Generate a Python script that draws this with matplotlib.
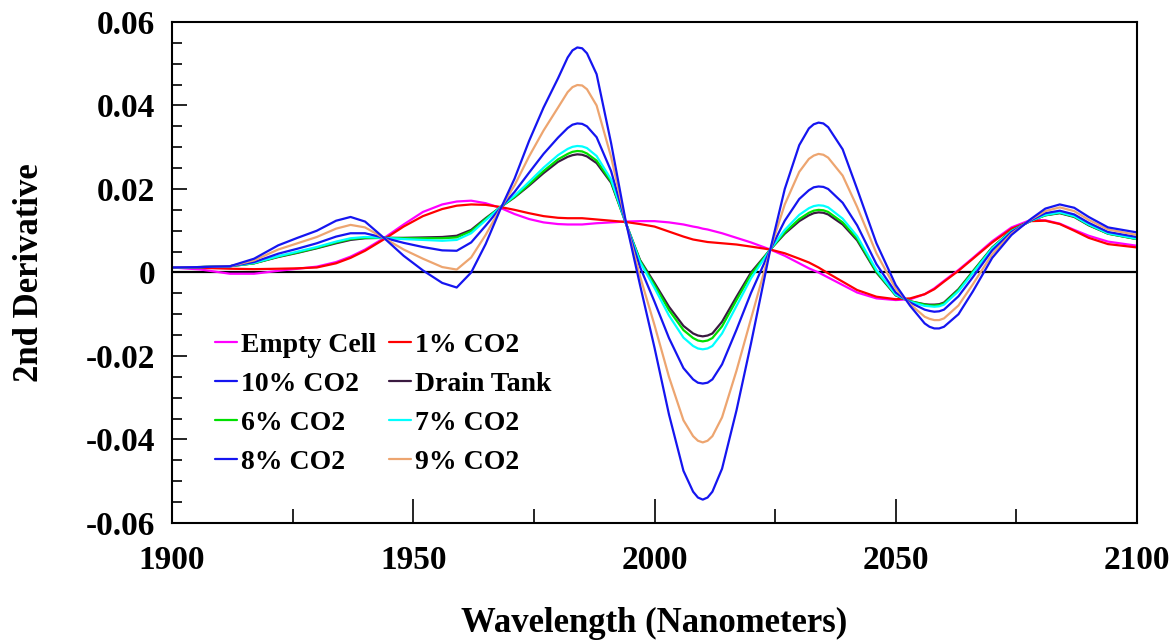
import matplotlib
matplotlib.use("Agg")
import matplotlib.pyplot as plt
from matplotlib.ticker import MultipleLocator, FixedLocator, FixedFormatter

plt.rcParams['font.family'] = ['Liberation Serif', 'DejaVu Serif']
plt.rcParams['font.weight'] = 'bold'

wavelength = [1900, 1906, 1912, 1917, 1922, 1926, 1930, 1934, 1937, 1940,
              1944, 1948, 1952, 1956, 1959, 1962, 1965, 1968, 1971, 1974,
              1977, 1980, 1982, 1983, 1984, 1985, 1986, 1988, 1991, 1994, 1997, 2000,
              2003, 2006, 2008, 2009, 2010, 2011, 2012, 2014, 2017, 2020, 2024, 2027,
              2030, 2032, 2033, 2034, 2035, 2036, 2039, 2042, 2046, 2050, 2053, 2056,
              2057, 2058, 2059, 2060, 2063, 2066, 2070, 2074, 2078, 2081, 2084, 2087,
              2090, 2094, 2100]

empty_cell = [0.0012, 0.0007, -0.0003, -0.0003, 0.0004, 0.0009, 0.0014, 0.0025, 0.0038, 0.0055,
              0.0083, 0.0115, 0.0145, 0.0163, 0.0170, 0.0172, 0.0166, 0.0155, 0.0140, 0.0128,
              0.0120, 0.0116, 0.0115, 0.0115, 0.0115, 0.0115, 0.0116, 0.0118, 0.0120, 0.0122, 0.0123, 0.0123,
              0.0120, 0.0115, 0.0110, 0.0108, 0.0105, 0.0103, 0.0100, 0.0094, 0.0083, 0.0072, 0.0055, 0.0040,
              0.0022, 0.0010, 0.0005, 0.0000, -0.0006, -0.0012, -0.0030, -0.0048, -0.0062, -0.0066, -0.0064, -0.0052,
              -0.0045, -0.0038, -0.0029, -0.0020, 0.0006, 0.0035, 0.0075, 0.0108, 0.0126, 0.0125, 0.0117, 0.0102,
              0.0088, 0.0074, 0.0064]

co2_1 = [0.0012, 0.0011, 0.0009, 0.0008, 0.0009, 0.0010, 0.0012, 0.0022, 0.0035, 0.0052,
         0.0080, 0.0110, 0.0135, 0.0152, 0.0160, 0.0163, 0.0162, 0.0157, 0.0150, 0.0142,
         0.0135, 0.0131, 0.0130, 0.0130, 0.0130, 0.0130, 0.0129, 0.0127, 0.0124, 0.0121, 0.0116, 0.0110,
         0.0098, 0.0086, 0.0079, 0.0077, 0.0075, 0.0073, 0.0072, 0.0070, 0.0067, 0.0062, 0.0055, 0.0046,
         0.0033, 0.0024, 0.0018, 0.0012, 0.0005, -0.0002, -0.0022, -0.0042, -0.0058, -0.0064, -0.0062, -0.0052,
         -0.0046, -0.0040, -0.0031, -0.0022, 0.0004, 0.0033, 0.0072, 0.0105, 0.0123, 0.0124, 0.0116, 0.0100,
         0.0083, 0.0068, 0.0060]

co2_10 = [0.0012, 0.0013, 0.0015, 0.0033, 0.0065, 0.0083, 0.0100, 0.0124, 0.0133, 0.0122,
          0.0082, 0.0040, 0.0005, -0.0025, -0.0036, 0.0000, 0.0068, 0.0150, 0.0225, 0.0315,
          0.0395, 0.0465, 0.0515, 0.0532, 0.0539, 0.0537, 0.0525, 0.0475, 0.0310, 0.0125, -0.0030, -0.0180,
          -0.0340, -0.0475, -0.0525, -0.0539, -0.0544, -0.0539, -0.0525, -0.0470, -0.0330, -0.0170, 0.0055, 0.0200,
          0.0305, 0.0345, 0.0355, 0.0359, 0.0357, 0.0348, 0.0295, 0.0200, 0.0070, -0.0030, -0.0080, -0.0122,
          -0.0130, -0.0134, -0.0134, -0.0130, -0.0100, -0.0045, 0.0035, 0.0090, 0.0128, 0.0153, 0.0163, 0.0155,
          0.0133, 0.0108, 0.0096]

drain_tank = [0.0012, 0.0013, 0.0015, 0.0022, 0.0037, 0.0047, 0.0058, 0.0070, 0.0078, 0.0082,
              0.0083, 0.0083, 0.0084, 0.0085, 0.0088, 0.0102, 0.0130, 0.0156, 0.0180, 0.0208,
              0.0238, 0.0265, 0.0277, 0.0281, 0.0283, 0.0282, 0.0278, 0.0262, 0.0215, 0.0120, 0.0030, -0.0025,
              -0.0082, -0.0128, -0.0146, -0.0151, -0.0153, -0.0151, -0.0146, -0.0118, -0.0058, 0.0000, 0.0055, 0.0093,
              0.0123, 0.0137, 0.0142, 0.0144, 0.0143, 0.0139, 0.0115, 0.0077, 0.0000, -0.0055, -0.0069, -0.0076,
              -0.0077, -0.0077, -0.0076, -0.0072, -0.0040, 0.0003, 0.0060, 0.0100, 0.0124, 0.0137, 0.0142, 0.0133,
              0.0113, 0.0093, 0.0080]

co2_6 = [0.0012, 0.0013, 0.0015, 0.0022, 0.0038, 0.0048, 0.0059, 0.0072, 0.0080, 0.0083,
         0.0083, 0.0082, 0.0082, 0.0082, 0.0084, 0.0099, 0.0128, 0.0156, 0.0181, 0.0211,
         0.0243, 0.0271, 0.0284, 0.0289, 0.0291, 0.0290, 0.0285, 0.0268, 0.0218, 0.0120, 0.0028, -0.0030,
         -0.0090, -0.0138, -0.0157, -0.0163, -0.0165, -0.0163, -0.0157, -0.0129, -0.0066, -0.0005, 0.0055, 0.0096,
         0.0128, 0.0143, 0.0148, 0.0150, 0.0149, 0.0145, 0.0120, 0.0081, 0.0002, -0.0054, -0.0069, -0.0077,
         -0.0079, -0.0079, -0.0078, -0.0074, -0.0042, 0.0002, 0.0059, 0.0100, 0.0124, 0.0137, 0.0143, 0.0134,
         0.0114, 0.0093, 0.0080]

co2_7 = [0.0012, 0.0013, 0.0015, 0.0023, 0.0039, 0.0050, 0.0061, 0.0074, 0.0082, 0.0085,
         0.0083, 0.0080, 0.0078, 0.0076, 0.0078, 0.0094, 0.0125, 0.0156, 0.0184, 0.0217,
         0.0251, 0.0281, 0.0296, 0.0301, 0.0303, 0.0302, 0.0298, 0.0279, 0.0223, 0.0120, 0.0025, -0.0037,
         -0.0103, -0.0156, -0.0176, -0.0182, -0.0184, -0.0182, -0.0176, -0.0146, -0.0080, -0.0014, 0.0055, 0.0102,
         0.0138, 0.0154, 0.0159, 0.0161, 0.0160, 0.0156, 0.0129, 0.0087, 0.0006, -0.0053, -0.0070, -0.0080,
         -0.0081, -0.0082, -0.0081, -0.0077, -0.0045, -0.0001, 0.0058, 0.0099, 0.0124, 0.0138, 0.0144, 0.0135,
         0.0115, 0.0094, 0.0081]

co2_8 = [0.0012, 0.0013, 0.0015, 0.0025, 0.0045, 0.0057, 0.0070, 0.0086, 0.0094, 0.0094,
         0.0083, 0.0071, 0.0061, 0.0053, 0.0052, 0.0072, 0.0112, 0.0154, 0.0193, 0.0239,
         0.0284, 0.0323, 0.0346, 0.0354, 0.0357, 0.0356, 0.0350, 0.0324, 0.0243, 0.0121, 0.0013, -0.0070,
         -0.0157, -0.0229, -0.0256, -0.0264, -0.0266, -0.0264, -0.0256, -0.0220, -0.0137, -0.0049, 0.0055, 0.0124,
         0.0176, 0.0197, 0.0204, 0.0206, 0.0205, 0.0200, 0.0167, 0.0113, 0.0020, -0.0048, -0.0072, -0.0089,
         -0.0092, -0.0094, -0.0093, -0.0089, -0.0057, -0.0011, 0.0053, 0.0097, 0.0125, 0.0142, 0.0148, 0.0139,
         0.0119, 0.0097, 0.0085]

co2_9 = [0.0012, 0.0013, 0.0015, 0.0029, 0.0055, 0.0070, 0.0085, 0.0105, 0.0114, 0.0108,
         0.0082, 0.0055, 0.0033, 0.0013, 0.0007, 0.0036, 0.0090, 0.0152, 0.0209, 0.0278,
         0.0340, 0.0395, 0.0432, 0.0444, 0.0449, 0.0448, 0.0439, 0.0400, 0.0277, 0.0123, -0.0009, -0.0126,
         -0.0250, -0.0354, -0.0392, -0.0403, -0.0407, -0.0403, -0.0392, -0.0347, -0.0235, -0.0111, 0.0055, 0.0163,
         0.0241, 0.0272, 0.0280, 0.0284, 0.0282, 0.0275, 0.0232, 0.0157, 0.0046, -0.0039, -0.0076, -0.0106,
         -0.0111, -0.0114, -0.0114, -0.0110, -0.0079, -0.0028, 0.0044, 0.0093, 0.0127, 0.0147, 0.0156, 0.0147,
         0.0126, 0.0103, 0.0090]

y_ticks = [-0.06, -0.04, -0.02, 0.0, 0.02, 0.04, 0.06]
y_tick_labels = ['-0.06', '-0.04', '-0.02', '0', '0.02', '0.04', '0.06']
x_ticks = [1900, 1950, 2000, 2050, 2100]

fig = plt.figure(figsize=(11.76, 6.41), dpi=100)
ax = fig.add_axes([0.1463, 0.1841, 0.8205, 0.7816])

lw = 1.6
style = dict(lw=lw, solid_joinstyle='round', solid_capstyle='round')
# legend order is column-wise: left column first, then right column
l_empty, = ax.plot(wavelength, empty_cell, color='#FF00FF', label='Empty Cell', **style)
l_1, = ax.plot(wavelength, co2_1, color='#FF0000', label='1% CO2', **style)
l_drain, = ax.plot(wavelength, drain_tank, color='#3A1A40', label='Drain Tank', **style)
l_6, = ax.plot(wavelength, co2_6, color='#00E000', label='6% CO2', **style)
l_7, = ax.plot(wavelength, co2_7, color='#00FFFF', label='7% CO2', **style)
l_8, = ax.plot(wavelength, co2_8, color='#1515F0', label='8% CO2', **style)
l_9, = ax.plot(wavelength, co2_9, color='#EDA570', label='9% CO2', **style)
l_10, = ax.plot(wavelength, co2_10, color='#1515F0', label='10% CO2', **style)

ax.axhline(0, color='black', lw=1.6, zorder=1)

ax.set_xlim(1900, 2100)
ax.set_ylim(-0.06, 0.06)

ax.xaxis.set_major_locator(FixedLocator(x_ticks))
ax.xaxis.set_minor_locator(MultipleLocator(25))
ax.yaxis.set_major_locator(FixedLocator(y_ticks))
ax.yaxis.set_major_formatter(FixedFormatter(y_tick_labels))
ax.yaxis.set_minor_locator(MultipleLocator(0.005))

ax.tick_params(axis='x', which='major', direction='in', length=17, width=1.2,
               labelsize=24, pad=16)
ax.tick_params(axis='x', which='minor', direction='in', length=10, width=1.2)
ax.tick_params(axis='y', which='major', direction='in', length=11, width=1.2,
               labelsize=24, pad=12)
ax.tick_params(axis='y', which='minor', direction='in', length=7, width=1.2)

for sp in ax.spines.values():
    sp.set_linewidth(1.5)

ax.set_xlabel('Wavelength (Nanometers)', fontsize=25, fontweight='bold', labelpad=22)
ax.set_ylabel('2nd Derivative', fontsize=25, fontweight='bold', labelpad=29)

handles = [l_empty, l_10, l_6, l_8, l_1, l_drain, l_7, l_9]
ax.legend(handles, [h.get_label() for h in handles], ncol=2, frameon=False,
          loc='upper left', bbox_to_anchor=(0.044, 0.38), borderpad=0,
          borderaxespad=0, handlelength=0.8, handletextpad=0.15,
          columnspacing=0.45, labelspacing=0.49,
          prop={'family': 'Liberation Serif', 'weight': 'bold', 'size': 20})

fig.savefig('out.png', dpi=100)
